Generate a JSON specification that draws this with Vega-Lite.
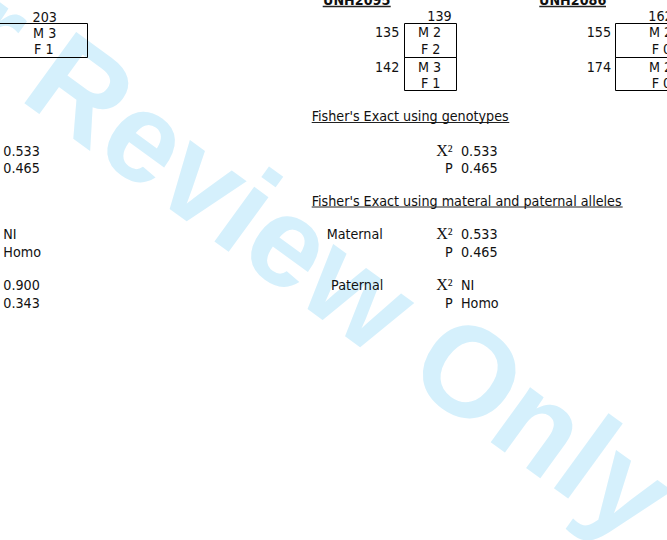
{
  "$schema": "https://vega.github.io/schema/vega-lite/v6.json",
  "width": 667,
  "height": 540,
  "padding": 0,
  "autosize": {"type": "none"},
  "background": "white",
  "config": {"view": {"stroke": null}},
  "datasets": {
    "watermark": [{"text": "For Review Only", "x": 227.5, "y": 251}],
    "boxes": [
      {"x": -5, "x2": 87.5, "y": 23.5, "y2": 57.5},
      {"x": 404.5, "x2": 456.5, "y": 23.5, "y2": 57.5},
      {"x": 404.5, "x2": 456.5, "y": 57.5, "y2": 90.5},
      {"x": 615.5, "x2": 720, "y": 23.5, "y2": 57.5},
      {"x": 615.5, "x2": 720, "y": 57.5, "y2": 90.5}
    ],
    "underlines": [
      {"x": 322.7, "x2": 390.7, "y": 6.5, "w": 1.5},
      {"x": 539.3, "x2": 606, "y": 6.5, "w": 1.5},
      {"x": 311.7, "x2": 509.3, "y": 122.5, "w": 1},
      {"x": 311.7, "x2": 622.7, "y": 207, "w": 1}
    ],
    "texts": [
      {"role": "left", "text": "0.533", "x": 3.3, "y": 155.7},
      {"role": "left", "text": "0.465", "x": 3.3, "y": 173.3},
      {"role": "left", "text": "NI", "x": 3.3, "y": 239.3},
      {"role": "left", "text": "Homo", "x": 3.3, "y": 257.3},
      {"role": "left", "text": "0.900", "x": 3.3, "y": 290},
      {"role": "left", "text": "0.343", "x": 3.3, "y": 308},
      {"role": "left", "text": "Fisher's Exact using genotypes", "x": 311.7, "y": 121},
      {"role": "left", "text": "Fisher's Exact using materal and paternal alleles", "x": 311.7, "y": 205.5},
      {"role": "left", "text": "0.533", "x": 461, "y": 155.7},
      {"role": "left", "text": "0.465", "x": 461, "y": 173.3},
      {"role": "left", "text": "0.533", "x": 461, "y": 239.3},
      {"role": "left", "text": "0.465", "x": 461, "y": 257.3},
      {"role": "left", "text": "NI", "x": 461, "y": 290},
      {"role": "left", "text": "Homo", "x": 461, "y": 308},
      {"role": "left", "text": "162", "x": 648.3, "y": 21},
      {"role": "left", "text": "M 2", "x": 649, "y": 37.3},
      {"role": "left", "text": "F 0", "x": 651.7, "y": 54},
      {"role": "left", "text": "M 2", "x": 649, "y": 71.7},
      {"role": "left", "text": "F 0", "x": 651.7, "y": 87.7},
      {"role": "right", "text": "Maternal", "x": 382.8, "y": 239.3},
      {"role": "right", "text": "Paternal", "x": 383.3, "y": 290},
      {"role": "right", "text": "P", "x": 452.7, "y": 173.3},
      {"role": "right", "text": "P", "x": 452.7, "y": 257.3},
      {"role": "right", "text": "P", "x": 452.7, "y": 308},
      {"role": "right", "text": "135", "x": 399.3, "y": 37.3},
      {"role": "right", "text": "142", "x": 399.3, "y": 71.7},
      {"role": "right", "text": "155", "x": 611, "y": 37.3},
      {"role": "right", "text": "174", "x": 611, "y": 71.7},
      {"role": "right", "text": "139", "x": 451.7, "y": 21},
      {"role": "center", "text": "203", "x": 44.7, "y": 21.7},
      {"role": "center", "text": "M 3", "x": 44.7, "y": 37.7},
      {"role": "center", "text": "F 1", "x": 43.8, "y": 54.3},
      {"role": "center", "text": "M 2", "x": 429.5, "y": 37.3},
      {"role": "center", "text": "F 2", "x": 430.7, "y": 54},
      {"role": "center", "text": "M 3", "x": 429.5, "y": 71.7},
      {"role": "center", "text": "F 1", "x": 430.7, "y": 87.7},
      {"role": "serif", "text": "X²", "x": 452.5, "y": 155.7},
      {"role": "serif", "text": "X²", "x": 452.5, "y": 239.3},
      {"role": "serif", "text": "X²", "x": 452.5, "y": 290},
      {"role": "bold", "text": "UNH2095", "x": 356.7, "y": 4.5},
      {"role": "bold", "text": "UNH2086", "x": 572.7, "y": 4.5}
    ]
  },
  "encoding": {
    "x": {"field": "x", "type": "quantitative", "scale": {"domain": [0, 667], "range": [0, 667], "nice": false, "zero": false}, "axis": null},
    "y": {"field": "y", "type": "quantitative", "scale": {"domain": [0, 540], "range": [0, 540], "nice": false, "zero": false}, "axis": null}
  },
  "layer": [
    {
      "data": {"name": "watermark"},
      "mark": {"type": "text", "angle": 36, "fontSize": 128, "font": "Liberation Sans", "fontWeight": "bold", "color": "#d5f0fc", "align": "center", "baseline": "alphabetic"},
      "encoding": {"text": {"field": "text"}}
    },
    {
      "data": {"name": "boxes"},
      "mark": {"type": "rect", "fill": "transparent", "stroke": "black", "strokeWidth": 1},
      "encoding": {"x2": {"field": "x2"}, "y2": {"field": "y2"}}
    },
    {
      "data": {"name": "underlines"},
      "mark": {"type": "rule", "color": "#222222"},
      "encoding": {"x2": {"field": "x2"}, "strokeWidth": {"field": "w", "type": "quantitative", "scale": null}}
    },
    {
      "data": {"name": "texts"},
      "transform": [{"filter": "datum.role === 'left'"}],
      "mark": {"type": "text", "align": "left", "baseline": "alphabetic", "font": "DejaVu Sans Condensed", "fontSize": 14.2, "color": "#111111"},
      "encoding": {"text": {"field": "text"}}
    },
    {
      "data": {"name": "texts"},
      "transform": [{"filter": "datum.role === 'right'"}],
      "mark": {"type": "text", "align": "right", "baseline": "alphabetic", "font": "DejaVu Sans Condensed", "fontSize": 14.2, "color": "#111111"},
      "encoding": {"text": {"field": "text"}}
    },
    {
      "data": {"name": "texts"},
      "transform": [{"filter": "datum.role === 'center'"}],
      "mark": {"type": "text", "align": "center", "baseline": "alphabetic", "font": "DejaVu Sans Condensed", "fontSize": 14.2, "color": "#111111"},
      "encoding": {"text": {"field": "text"}}
    },
    {
      "data": {"name": "texts"},
      "transform": [{"filter": "datum.role === 'serif'"}],
      "mark": {"type": "text", "align": "right", "baseline": "alphabetic", "font": "Liberation Serif", "fontSize": 16, "color": "#111111"},
      "encoding": {"text": {"field": "text"}}
    },
    {
      "data": {"name": "texts"},
      "transform": [{"filter": "datum.role === 'bold'"}],
      "mark": {"type": "text", "align": "center", "baseline": "alphabetic", "font": "DejaVu Sans Condensed", "fontWeight": "bold", "fontSize": 14.2, "color": "#111111"},
      "encoding": {"text": {"field": "text"}}
    }
  ]
}
